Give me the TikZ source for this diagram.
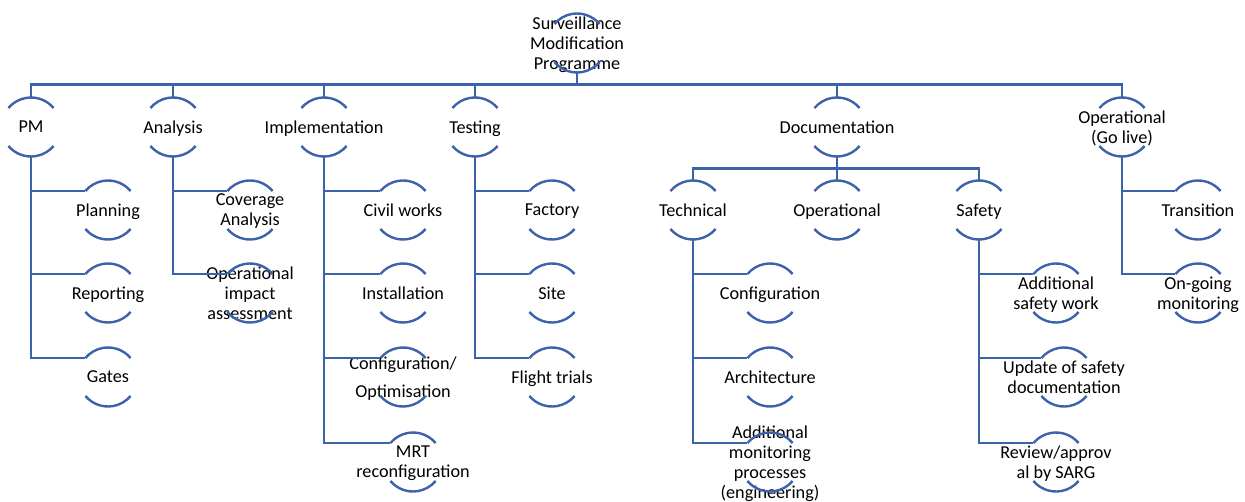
\documentclass[tikz,border=0pt]{standalone}
\usepackage{fontspec}
\setmainfont{Carlito}
\definecolor{wbsblue}{HTML}{3B62AA}
\tikzset{
    wbsline/.style={draw=wbsblue, line width=1.2pt},
    wbslabel/.style={align=center, inner sep=0pt, text depth=0pt,
        font=\fontsize{9.1}{10}\selectfont},
    wbs/.style={circle, minimum size=29.5pt, inner sep=0pt, outer sep=0pt,
        label={[wbslabel]center:{#1}}},
}

\begin{document}
\begin{tikzpicture}[x=0.5pt, y=0.5pt]
        \useasboundingbox (0,0) rectangle (1245,-502);
        % programme
        \node[wbs={Surveillance\\Modification\\Programme}] (top) at (577,-43) {};
        % first level
        \node[wbs=PM] (pm) at (31,-127) {};
        \node[wbs=Analysis] (analysis) at (173,-127) {};
        \node[wbs=Implementation] (impl) at (324,-127) {};
        \node[wbs=Testing] (testing) at (475,-127) {};
        \node[wbs=Documentation] (doc) at (837,-127) {};
        \node[wbs={Operational\\(Go live)}] (golive) at (1122,-127) {};
        % PM
        \node[wbs=Planning] (planning) at (108,-210) {};
        \node[wbs=Reporting] (reporting) at (108,-293) {};
        \node[wbs=Gates] (gates) at (108,-377) {};
        % analysis
        \node[wbs={Coverage\\Analysis}] (coverage) at (250,-210) {};
        \node[wbs={Operational\\impact\\assessment}] (opimpact) at (250,-293) {};
        % implementation
        \node[wbs={Civil works}] (civil) at (403,-210) {};
        \node[wbs=Installation] (install) at (403,-293) {};
        \node[wbs={Configuration/\\[4pt]Optimisation}] (optim) at (403,-377) {};
        \node[wbs={MRT\\reconfiguration}] (mrt) at (413,-462) {};
        % testing
        \node[wbs=Factory] (factory) at (552,-210) {};
        \node[wbs=Site] (site) at (552,-293) {};
        \node[wbs={Flight trials}] (flight) at (552,-377) {};
        % documentation
        \node[wbs=Technical] (tech) at (693,-210) {};
        \node[wbs=Operational] (opdoc) at (837,-210) {};
        \node[wbs=Safety] (safety) at (979,-210) {};
        \node[wbs=Configuration] (config) at (770,-293) {};
        \node[wbs=Architecture] (arch) at (770,-377) {};
        \node[wbs={Additional\\monitoring\\processes\\(engineering)}] (addmon) at (770,-462) {};
        \node[wbs={Additional\\safety work}] (addsafety) at (1056,-293) {};
        \node[wbs={Update of safety\\documentation}] (update) at (1064,-377) {};
        \node[wbs={Review/approv\\al by SARG}] (review) at (1056,-462) {};
        % go live
        \node[wbs=Transition] (transition) at (1198,-210) {};
        \node[wbs={On-going\\monitoring}] (ongoing) at (1198,-293) {};

        % brackets
        \foreach \n in {top,pm,analysis,impl,testing,doc,golive,planning,reporting,gates,
                coverage,opimpact,civil,install,optim,mrt,factory,site,flight,tech,opdoc,
                safety,config,arch,addmon,addsafety,update,review,transition,ongoing}{
            \draw[wbsline] (\n.40) arc[start angle=40, end angle=140, radius=14.75pt]
                (\n.220) arc[start angle=220, end angle=320, radius=14.75pt];
        }

        % links
        \foreach \c in {pm,analysis,impl,testing,doc,golive}
            \draw[wbsline] (top.south) -- ++(0,-12) -| (\c.north);
        \foreach \c in {tech,opdoc,safety}
            \draw[wbsline] (doc.south) -- ++(0,-12) -| (\c.north);
        \foreach \p/\c in {pm/planning, pm/reporting, pm/gates, analysis/coverage,
                analysis/opimpact, impl/civil, impl/install, impl/optim, impl/mrt,
                testing/factory, testing/site, testing/flight, tech/config, tech/arch,
                tech/addmon, safety/addsafety, safety/update, safety/review,
                golive/transition, golive/ongoing}
            \draw[wbsline] (\p.south) |- (\c.140);
\end{tikzpicture}
\end{document}
